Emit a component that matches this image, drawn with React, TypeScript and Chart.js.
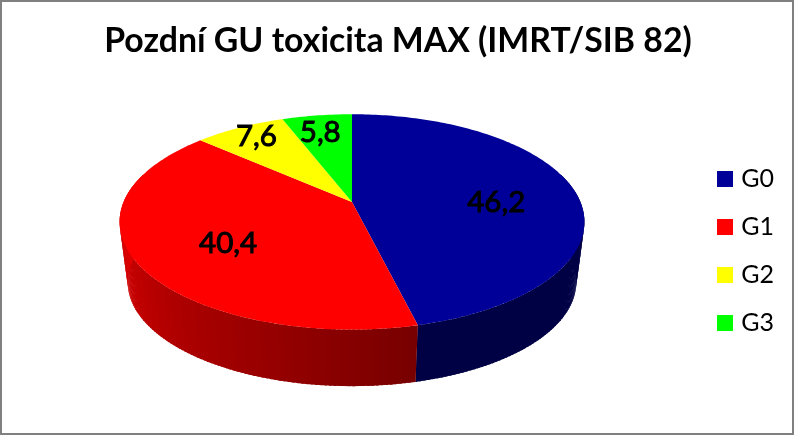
import React, { useEffect, useRef } from "react";
import { Chart, registerables } from "chart.js";

Chart.register(...registerables);

const categories = ["G0", "G1", "G2", "G3"];
const values = [46.2, 40.4, 7.6, 5.8];
const valueLabels = ["46,2", "40,4", "7,6", "5,8"];
const colors = ["#000099", "#FF0000", "#FFFF00", "#00FF00"];
const titleText = "Pozdní GU toxicita MAX (IMRT/SIB 82)";

// perspective view of the pie's disc
const APEX_X = 352;
const TOP_APEX_Y = 202;
const BOTTOM_APEX_Y = 263;
const RX = 228.4;
const RY = 104;
const PERSPECTIVE = 0.185;
const BOTTOM_SCALE = 0.965;
// label placement: fraction along the slice's mid radius, then a nudge
const labelFraction = [0.65, 0.6, 0.85, 0.85];
const labelNudgeX = [0, 6, 0, -2];
const labelNudgeY = [8, 6, -2, 4];

const FONT = "Lato, Carlito, sans-serif";
const SWATCH = 16;

function project(theta: number, frac: number, apexY: number, scale: number) {
  const w = 1 + PERSPECTIVE * Math.cos(theta);
  return {
    x: APEX_X + (frac * scale * RX * Math.sin(theta)) / w,
    y: apexY - (frac * scale * RY * Math.cos(theta)) / w,
  };
}

function hexShade(hex: string, f: number) {
  const n = parseInt(hex.slice(1), 16);
  const r = Math.round(((n >> 16) & 255) * f);
  const g = Math.round(((n >> 8) & 255) * f);
  const b = Math.round((n & 255) * f);
  return `rgb(${r},${g},${b})`;
}

function sideShade(theta: number) {
  const deg = (theta * 180) / Math.PI;
  if (deg < 166) return 0.45;
  return Math.min(0.9, 0.47 + (0.4 * (deg - 166)) / 104);
}

function swatch(color: string) {
  const c = document.createElement("canvas");
  c.width = SWATCH;
  c.height = SWATCH;
  const g = c.getContext("2d") as CanvasRenderingContext2D;
  g.fillStyle = color;
  g.fillRect(0, 0, SWATCH, SWATCH);
  return c;
}

const perspectivePie = {
  id: "perspectivePie",
  beforeDraw(chart: any) {
    const { ctx, width, height } = chart;
    ctx.save();
    ctx.fillStyle = "#FFFFFF";
    ctx.fillRect(0, 0, width, height);
    ctx.fillStyle = "#808080";
    ctx.fillRect(0, 0, width, 2);
    ctx.fillRect(0, height - 2, width, 2);
    ctx.fillRect(0, 0, 2, height);
    ctx.fillRect(width - 2, 0, 2, height);
    ctx.restore();
  },
  beforeDatasetDraw(chart: any) {
    const { ctx } = chart;
    const arcs = chart.getDatasetMeta(0).data;
    const step = Math.PI / 180;
    ctx.save();
    // side wall
    arcs.forEach((arc: any) => {
      const a0 = arc.startAngle + Math.PI / 2;
      const a1 = arc.endAngle + Math.PI / 2;
      const base = arc.options.backgroundColor;
      for (let t = a0; t < a1; t += step) {
        const t2 = Math.min(t + step * 1.6, a1);
        if (Math.cos(t) > 0.25 && Math.cos(t2) > 0.25) continue;
        const p1 = project(t, 1, TOP_APEX_Y, 1);
        const p2 = project(t2, 1, TOP_APEX_Y, 1);
        const p3 = project(t2, 1, BOTTOM_APEX_Y, BOTTOM_SCALE);
        const p4 = project(t, 1, BOTTOM_APEX_Y, BOTTOM_SCALE);
        ctx.fillStyle = hexShade(base, sideShade(t));
        ctx.beginPath();
        ctx.moveTo(p1.x, p1.y);
        ctx.lineTo(p2.x, p2.y);
        ctx.lineTo(p3.x, p3.y);
        ctx.lineTo(p4.x, p4.y);
        ctx.closePath();
        ctx.fill();
      }
    });
    // top surface
    arcs.forEach((arc: any) => {
      const a0 = arc.startAngle + Math.PI / 2;
      const a1 = arc.endAngle + Math.PI / 2;
      ctx.fillStyle = arc.options.backgroundColor;
      ctx.beginPath();
      ctx.moveTo(APEX_X, TOP_APEX_Y);
      for (let t = a0; t < a1; t += step) {
        const p = project(t, 1, TOP_APEX_Y, 1);
        ctx.lineTo(p.x, p.y);
      }
      const e = project(a1, 1, TOP_APEX_Y, 1);
      ctx.lineTo(e.x, e.y);
      ctx.closePath();
      ctx.fill();
    });
    ctx.restore();
    return false;
  },
  afterDatasetsDraw(chart: any) {
    const { ctx } = chart;
    const arcs = chart.getDatasetMeta(0).data;
    ctx.save();
    ctx.font = `29.5px ${FONT}`;
    ctx.fillStyle = "#000000";
    ctx.strokeStyle = "#000000";
    ctx.lineWidth = 1;
    ctx.textAlign = "center";
    ctx.textBaseline = "middle";
    arcs.forEach((arc: any, i: number) => {
      const mid = (arc.startAngle + arc.endAngle) / 2 + Math.PI / 2;
      const p = project(mid, labelFraction[i], TOP_APEX_Y, 1);
      const lx = p.x + labelNudgeX[i];
      const ly = p.y + labelNudgeY[i];
      ctx.fillText(valueLabels[i], lx, ly);
      ctx.strokeText(valueLabels[i], lx, ly);
    });
    ctx.restore();
  },
};

export default function App() {
  const ref = useRef<HTMLCanvasElement | null>(null);
  useEffect(() => {
    const chart = new Chart(ref.current as HTMLCanvasElement, {
      type: "pie",
      data: {
        labels: categories,
        datasets: [{ data: values, backgroundColor: colors, borderWidth: 0 }],
      },
      options: {
        animation: false,
        responsive: false,
        devicePixelRatio: 1,
        layout: { padding: { left: 12, right: 10 } },
        plugins: {
          title: {
            display: true,
            text: titleText,
            color: "#000000",
            font: { family: FONT, size: 33.8, weight: "bold", lineHeight: 1.2 },
            padding: { top: 21, bottom: 6 },
          },
          legend: {
            display: true,
            position: "right",
            fullSize: false,
            labels: {
              usePointStyle: true,
              pointStyleWidth: 7,
              boxHeight: 16,
              padding: 23,
              color: "#000000",
              font: { family: FONT, size: 25 },
              generateLabels: () =>
                categories.map((text, i) => ({
                  text,
                  index: i,
                  hidden: false,
                  lineWidth: 0,
                  fontColor: "#000000",
                  fillStyle: colors[i],
                  strokeStyle: colors[i],
                  pointStyle: swatch(colors[i]),
                })),
            },
          },
          tooltip: { enabled: false },
        },
      },
      plugins: [perspectivePie],
    } as any);
    return () => chart.destroy();
  }, []);
  return (
    <canvas
      ref={ref}
      width={794}
      height={435}
      style={{ position: "fixed", left: 0, top: 0, width: 794, height: 435, display: "block" }}
    />
  );
}
